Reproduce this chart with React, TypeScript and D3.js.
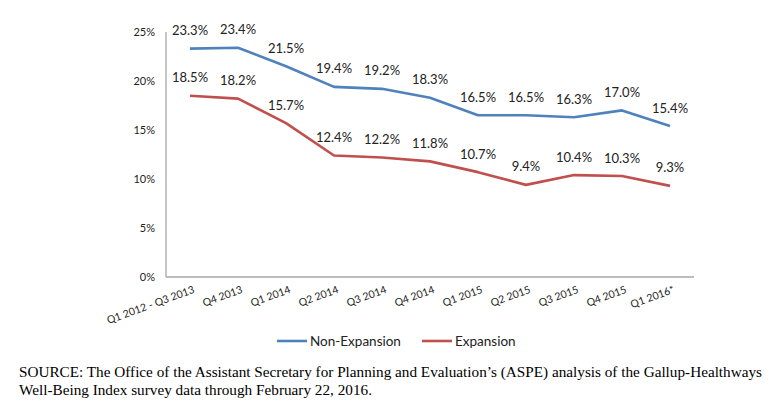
import React from 'react';
import * as d3 from 'd3';

const quarters = ['Q1 2012 - Q3 2013', 'Q4 2013', 'Q1 2014', 'Q2 2014', 'Q3 2014', 'Q4 2014', 'Q1 2015', 'Q2 2015', 'Q3 2015', 'Q4 2015', 'Q1 2016*'];
const nonExpansion = [23.3, 23.4, 21.5, 19.4, 19.2, 18.3, 16.5, 16.5, 16.3, 17.0, 15.4];
const expansion = [18.5, 18.2, 15.7, 12.4, 12.2, 11.8, 10.7, 9.4, 10.4, 10.3, 9.3];
const yTicks = [0, 5, 10, 15, 20, 25];

const W = 781;
const H = 415;
const left = 166;
const right = 694;
const top = 32;
const bottom = 277;

const font = 'Lato, "Open Sans", sans-serif';
const serif = '"Liberation Serif", "Times New Roman", serif';

const App: React.FC = () => {
  const x = d3.scalePoint<string>().domain(quarters).range([left, right]).padding(0.5);
  const y = d3.scaleLinear().domain([0, 25]).range([bottom, top]);

  const line = d3.line<number>()
    .x((_, i) => x(quarters[i])!)
    .y(d => y(d));

  const series = [
    { name: 'Non-Expansion', values: nonExpansion, color: '#4F81BD' },
    { name: 'Expansion', values: expansion, color: '#C0504D' },
  ];

  return (
    <svg width={W} height={H} style={{ position: 'absolute', left: 0, top: 0 }}>
      <rect width={W} height={H} fill="#fff" />
      {/* axes */}
      <line x1={left} x2={left} y1={top} y2={bottom} stroke="#A6A6A6" strokeWidth={1.3} />
      <line x1={left} x2={right} y1={bottom} y2={bottom} stroke="#A6A6A6" strokeWidth={1.3} />
      {yTicks.map(t => (
        <text key={t} x={155} y={y(t)} dy="0.35em" textAnchor="end" fontSize={11} fontFamily={font} fill="#222">
          {t}%
        </text>
      ))}
      {quarters.map(q => (
        <text
          key={q}
          transform={`translate(${x(q)! + 4},${bottom + 12}) rotate(-20)`}
          textAnchor="end"
          dy="0.35em"
          fontSize={10.5}
          fontFamily={font}
          fill="#222"
        >
          {q}
        </text>
      ))}
      {series.map(s => (
        <g key={s.name}>
          <path d={line(s.values) ?? ''} fill="none" stroke={s.color} strokeWidth={2.6} strokeLinejoin="round" />
          {s.values.map((v, i) => (
            <text
              key={i}
              x={x(quarters[i])}
              y={y(v) - 18}
              dy="0.35em"
              textAnchor="middle"
              fontSize={13}
              fontFamily={font}
              fill="#222"
            >
              {v.toFixed(1)}%
            </text>
          ))}
        </g>
      ))}
      {/* legend */}
      <line x1={277} x2={307} y1={341} y2={341} stroke="#4F81BD" strokeWidth={2.6} />
      <text x={310} y={341} dy="0.35em" fontSize={13.5} fontFamily={font} fill="#222">Non-Expansion</text>
      <line x1={422} x2={452} y1={341} y2={341} stroke="#C0504D" strokeWidth={2.6} />
      <text x={455} y={341} dy="0.35em" fontSize={13.5} fontFamily={font} fill="#222">Expansion</text>
      {/* source */}
      <text x={19} y={377} fontSize={15} fontFamily={serif} fill="#000" textLength={743} lengthAdjust="spacingAndGlyphs">
        SOURCE: The Office of the Assistant Secretary for Planning and Evaluation’s (ASPE) analysis of the Gallup-Healthways
      </text>
      <text x={19} y={395} fontSize={15} fontFamily={serif} fill="#000" textLength={353} lengthAdjust="spacingAndGlyphs">
        Well-Being Index survey data through February 22, 2016.
      </text>
    </svg>
  );
};

export default App;
